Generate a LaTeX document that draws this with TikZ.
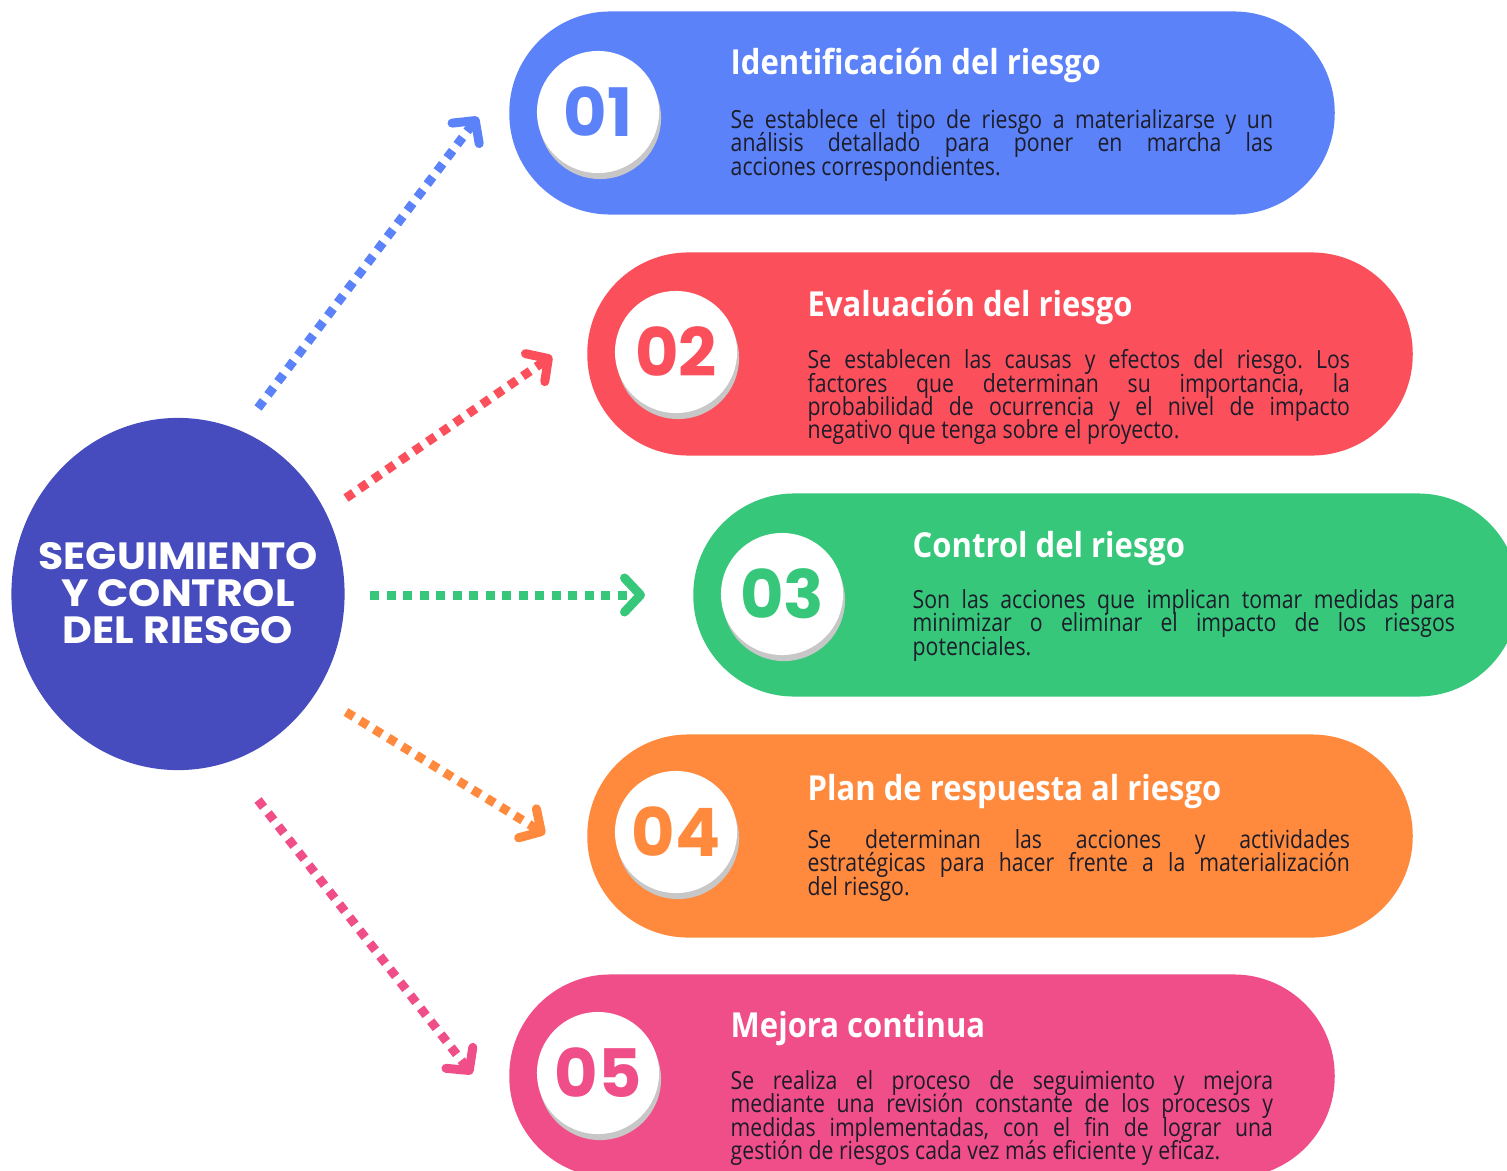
\documentclass[tikz,border=0pt]{standalone}
\usepackage{fontspec}
\setmainfont{Open Sans}
\newfontfamily\headfont{Poppins}
\newfontfamily\hubfont[FakeStretch=1.08]{Poppins}
\newfontfamily\titlefont[FakeStretch=0.9]{Open Sans}
\newfontfamily\condfont[FakeStretch=0.85]{Open Sans}
\usetikzlibrary{arrows.meta,shapes.geometric,shadows}

\definecolor{hubblue}{HTML}{464BBD}
\definecolor{stepblue}{HTML}{5B82F8}
\definecolor{stepred}{HTML}{FB4F5B}
\definecolor{stepgreen}{HTML}{36C77A}
\definecolor{steporange}{HTML}{FF8A3D}
\definecolor{steppink}{HTML}{F04E88}
\definecolor{bodyink}{HTML}{1C1C2A}

\newcommand\tightlines{\setlength{\lineskiplimit}{-6pt}\frenchspacing}

\begin{document}
\begin{tikzpicture}[x=0.01cm, y=-0.01cm,
    pill/.style={rectangle, rounded corners=1.01cm, minimum width=8.25cm,
      minimum height=2.03cm, inner sep=0pt},
    numdisc/.style={circle, fill=white, minimum size=1.22cm, inner sep=0pt,
      font=\headfont\bfseries\fontsize{19}{19}\selectfont,
      drop shadow={shadow xshift=0.02cm, shadow yshift=-0.06cm, fill=black!22, opacity=1}},
    steptitle/.style={anchor=base west, inner sep=0pt, text=white,
      font=\titlefont\bfseries\fontsize{9.8}{10}\selectfont},
    stepbody/.style={anchor=north west, inner sep=0pt, text=bodyink, text width=5.42cm,
      align=justify, font=\condfont\fontsize{7.1}{6.6}\selectfont,
      execute at begin node=\tightlines},
    dotlink/.style={line width=0.09cm, dash pattern=on 0.09cm off 0.075cm,
      -{Straight Barb[round, length=0.16cm, width=0.34cm]}}
  ]
    \useasboundingbox (0,0) rectangle (1507,1170);
    \clip (0,0) rectangle (1507,1170);

    % Central topic
    \node[ellipse, fill=hubblue, minimum width=3.33cm, minimum height=3.52cm,
      inner sep=0pt] (hub) at (178,594) {};
    \node[text=white, align=center, inner sep=0pt,
      font=\hubfont\bfseries\fontsize{10.8}{10.5}\selectfont] (hubtext) at (178,593)
      {SEGUIMIENTO\\Y CONTROL\\DEL RIESGO};

    % Step 01
    \node[pill, fill=stepblue] (p1) at (922,113) {};
    \node[numdisc, text=stepblue] (n1) at (598,112) {01};
    \node[steptitle] (t1) at (730,75) {Identificación del riesgo};
    \node[stepbody] (b1) at (730,109) {Se establece el tipo de riesgo a materializarse y un\linebreak
      análisis detallado para poner en marcha las\linebreak acciones correspondientes.};

    % Step 02
    \node[pill, fill=stepred] (p2) at (1000,354) {};
    \node[numdisc, text=stepred] (n2) at (676,352) {02};
    \node[steptitle] (t2) at (807,316) {Evaluación del riesgo};
    \node[stepbody] (b2) at (807,349) {Se establecen las causas y efectos del riesgo. Los\linebreak
      factores que determinan su importancia, la\linebreak probabilidad de ocurrencia y el nivel de impacto\linebreak
      negativo que tenga sobre el proyecto.};

    % Step 03
    \node[pill, fill=stepgreen] (p3) at (1106,595) {};
    \node[numdisc, text=stepgreen] (n3) at (782,594) {03};
    \node[steptitle] (t3) at (912,557) {Control del riesgo};
    \node[stepbody] (b3) at (912,589) {Son las acciones que implican tomar medidas para\linebreak
      minimizar o eliminar el impacto de los riesgos\linebreak potenciales.};

    % Step 04
    \node[pill, fill=steporange] (p4) at (1000,836) {};
    \node[numdisc, text=steporange] (n4) at (676,832) {04};
    \node[steptitle] (t4) at (807,800) {Plan de respuesta al riesgo};
    \node[stepbody] (b4) at (807,829) {Se determinan las acciones y actividades\linebreak
      estratégicas para hacer frente a la materialización\linebreak del riesgo.};

    % Step 05
    \node[pill, fill=steppink] (p5) at (922,1076) {};
    \node[numdisc, text=steppink] (n5) at (598,1073) {05};
    \node[steptitle] (t5) at (730,1037) {Mejora continua};
    \node[stepbody] (b5) at (730,1070) {Se realiza el proceso de seguimiento y mejora\linebreak
      mediante una revisión constante de los procesos y\linebreak medidas implementadas, con el fin de lograr una\linebreak
      gestión de riesgos cada vez más eficiente y eficaz.};

    % Dotted links
    \coordinate (s1) at (258,408);  \coordinate (e1) at (478,117);
    \coordinate (s2) at (346,498);  \coordinate (e2) at (552,356);
    \coordinate (s3) at (370,595);  \coordinate (e3) at (645,595);
    \coordinate (s4) at (346,712);  \coordinate (e4) at (545,834);
    \coordinate (s5) at (258,800);  \coordinate (e5) at (472,1074);
    \draw[dotlink, stepblue] (s1) -- (e1);
    \draw[dotlink, stepred] (s2) -- (e2);
    \draw[dotlink, stepgreen] (s3) -- (e3);
    \draw[dotlink, steporange] (s4) -- (e4);
    \draw[dotlink, steppink] (s5) -- (e5);
  \end{tikzpicture}
\end{document}
